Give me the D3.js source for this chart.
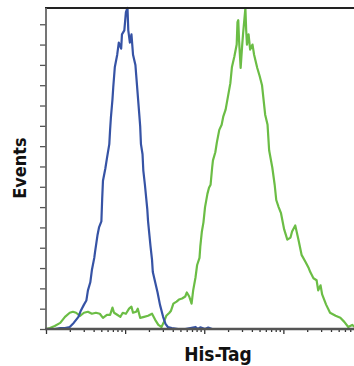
<!DOCTYPE html>
<html>
<head>
<meta charset="utf-8">
<script src="https://cdn.jsdelivr.net/npm/d3@7"></script>
<style>
  body { margin: 0; background: #fff; }
  text { font-family: 'Liberation Sans Narrow', 'DejaVu Sans Condensed', 'Liberation Sans', sans-serif; font-weight: bold; }
</style>
</head>
<body>
<div id="chart"></div>
<script>
// histogram bins: x in decades (log10 of fluorescence), y in events
const blueX = [0.00, 0.11, 0.18, 0.24, 0.30, 0.35, 0.41, 0.44, 0.48, 0.51, 0.53, 0.56, 0.58, 0.61, 0.62, 0.65, 0.67, 0.70,
  0.71, 0.72, 0.75, 0.77, 0.80, 0.81, 0.82, 0.84, 0.85, 0.87, 0.90, 0.92, 0.95, 0.96, 0.99, 1.01, 1.03, 1.04, 1.06, 1.08,
  1.10, 1.13, 1.14, 1.16, 1.18, 1.19, 1.20, 1.22, 1.23, 1.25, 1.28, 1.29, 1.32, 1.34, 1.35, 1.38, 1.41, 1.44, 1.48, 1.51,
  1.54, 1.59, 1.67, 1.76, 1.89, 1.92, 1.95, 2.01, 2.05, 2.10, 2.15];
const blueY = [0, 0, 0.5, 0.5, 1, 3, 6, 9, 12, 14, 19, 23, 29, 35, 38, 46, 50, 53,
  64, 73, 79, 84, 91, 98, 104, 113, 119, 129, 135, 141, 138, 145, 147, 156, 158, 147, 141, 145,
  135, 130, 125, 115, 105, 100, 91, 86, 78, 71, 59, 53, 41, 34, 28, 23, 18, 12, 6, 2.5,
  1, 0.5, 0, 0, 1, 0, 0.8, 0, 0.7, 0, 0];

const greenX = [0.00, 0.05, 0.11, 0.18, 0.24, 0.30, 0.34, 0.38, 0.43, 0.48, 0.53, 0.58, 0.63, 0.68, 0.72, 0.77, 0.81, 0.84,
  0.86, 0.90, 0.94, 0.97, 1.01, 1.05, 1.08, 1.10, 1.14, 1.16, 1.19, 1.24, 1.29, 1.34, 1.38, 1.42, 1.46, 1.49, 1.52, 1.56,
  1.58, 1.61, 1.65, 1.68, 1.72, 1.76, 1.78, 1.81, 1.84, 1.86, 1.89, 1.91, 1.94, 1.95, 1.97, 1.99, 2.01, 2.04, 2.06, 2.08,
  2.10, 2.11, 2.14, 2.16, 2.19, 2.22, 2.24, 2.27, 2.30, 2.33, 2.35, 2.38, 2.41, 2.42, 2.43, 2.44, 2.46, 2.48, 2.49, 2.52,
  2.53, 2.54, 2.56, 2.58, 2.61, 2.63, 2.67, 2.70, 2.73, 2.77, 2.80, 2.82, 2.86, 2.89, 2.91, 2.94, 2.97, 3.01, 3.05, 3.09,
  3.11, 3.15, 3.19, 3.23, 3.28, 3.32, 3.34, 3.38, 3.42, 3.44, 3.47, 3.49, 3.54, 3.59, 3.66, 3.72, 3.77, 3.82, 3.87, 3.92];
const greenY = [0, 0.5, 1.5, 3, 6, 8, 8.5, 8, 6.5, 8, 8.5, 7.5, 8, 7.5, 5.5, 7, 7, 10.5,
  8, 7, 6, 8, 7.5, 10, 11, 8, 8.5, 10, 5.5, 6, 6.5, 7.5, 4.5, 2, 1, 3.5, 6.5, 8,
  9, 12.5, 13.5, 14.5, 15, 16, 18, 16, 12.5, 19, 25.5, 31.5, 35, 40.5, 48, 52.5, 60, 66.5, 69.5, 71,
  79.5, 83, 87, 92, 98, 100.5, 104.5, 108, 114.5, 121, 129, 134, 140, 151, 152, 142, 128.5, 140, 145, 158,
  147, 140, 145, 137.5, 140, 135, 128.5, 124.5, 120, 105.5, 100.5, 88, 79.5, 71, 63.5, 60, 57, 49, 44, 45,
  48, 51, 44, 36.5, 33, 30, 28, 25, 24, 19, 21.5, 17, 12, 8, 6.5, 5.5, 3.5, 1, 2, 0.5];

const yTicks = [0, 10, 20, 30, 40, 50, 60, 70, 80, 90, 100, 110, 120, 130, 140, 150];
const xLabel = 'His-Tag';
const yLabel = 'Events';

const width = 354;
const height = 366;
const plot = { left: 46, right: 354, top: 8, bottom: 329 };

const svg = d3.select('#chart').append('svg')
  .attr('width', width)
  .attr('height', height);

const xScale = d3.scaleLog([1, 1e4], [plot.left, 362.5]);
const yScale = d3.scaleLinear([0, 158], [plot.bottom, plot.top]);

const line = d3.line()
  .x((d) => xScale(10 ** d[0]))
  .y((d) => yScale(d[1]))
  .curve(d3.curveLinear);

const series = [
  { color: '#6bbd45', rows: greenX.map((x, i) => [x, greenY[i]]) },
  { color: '#3653a5', rows: blueX.map((x, i) => [x, blueY[i]]) },
];

svg.append('g')
  .selectAll('path')
  .data(series)
  .join('path')
  .attr('fill', 'none')
  .attr('stroke', (d) => d.color)
  .attr('stroke-width', 2.2)
  .attr('stroke-linejoin', 'round')
  .attr('d', (d) => line(d.rows));

// top border
svg.append('line')
  .attr('x1', plot.left - 1).attr('x2', plot.right)
  .attr('y1', plot.top).attr('y2', plot.top)
  .attr('stroke', '#222')
  .attr('stroke-width', 2);

// y axis
const yAxis = svg.append('g')
  .attr('transform', `translate(${plot.left},0)`)
  .call(d3.axisLeft(yScale).tickValues(yTicks).tickSize(6).tickFormat('').tickSizeOuter(0));
yAxis.select('.domain').remove();
yAxis.selectAll('line').attr('stroke', '#555').attr('stroke-width', 1.3);
svg.append('line')
  .attr('x1', plot.left).attr('x2', plot.left)
  .attr('y1', plot.top).attr('y2', plot.bottom)
  .attr('stroke', '#666')
  .attr('stroke-width', 1.8);

// x axis (log, major and minor ticks)
const allTicks = xScale.ticks().filter((t) => xScale(t) <= plot.right);
const majorTicks = allTicks.filter((t) => Math.abs(Math.log10(t) % 1) < 1e-9);
const minorTicks = allTicks.filter((t) => !majorTicks.includes(t));

[[minorTicks, 3], [majorTicks, 5]].forEach(([values, size]) => {
  const g = svg.append('g')
    .attr('transform', `translate(0,${plot.bottom})`)
    .call(d3.axisBottom(xScale).tickValues(values).tickSize(size).tickFormat(''));
  g.select('.domain').remove();
  g.selectAll('line').attr('stroke', '#333').attr('stroke-width', 1.3);
});
svg.append('line')
  .attr('x1', plot.left - 1).attr('x2', plot.right)
  .attr('y1', plot.bottom).attr('y2', plot.bottom)
  .attr('stroke', '#555')
  .attr('stroke-width', 2.5);

svg.append('text')
  .attr('x', 218)
  .attr('y', 361)
  .attr('text-anchor', 'middle')
  .attr('font-size', 19)
  .attr('fill', '#111')
  .text(xLabel);

svg.append('text')
  .attr('transform', 'translate(26,168) rotate(-90)')
  .attr('text-anchor', 'middle')
  .attr('font-size', 18)
  .attr('fill', '#111')
  .text(yLabel);
</script>
</body>
</html>
